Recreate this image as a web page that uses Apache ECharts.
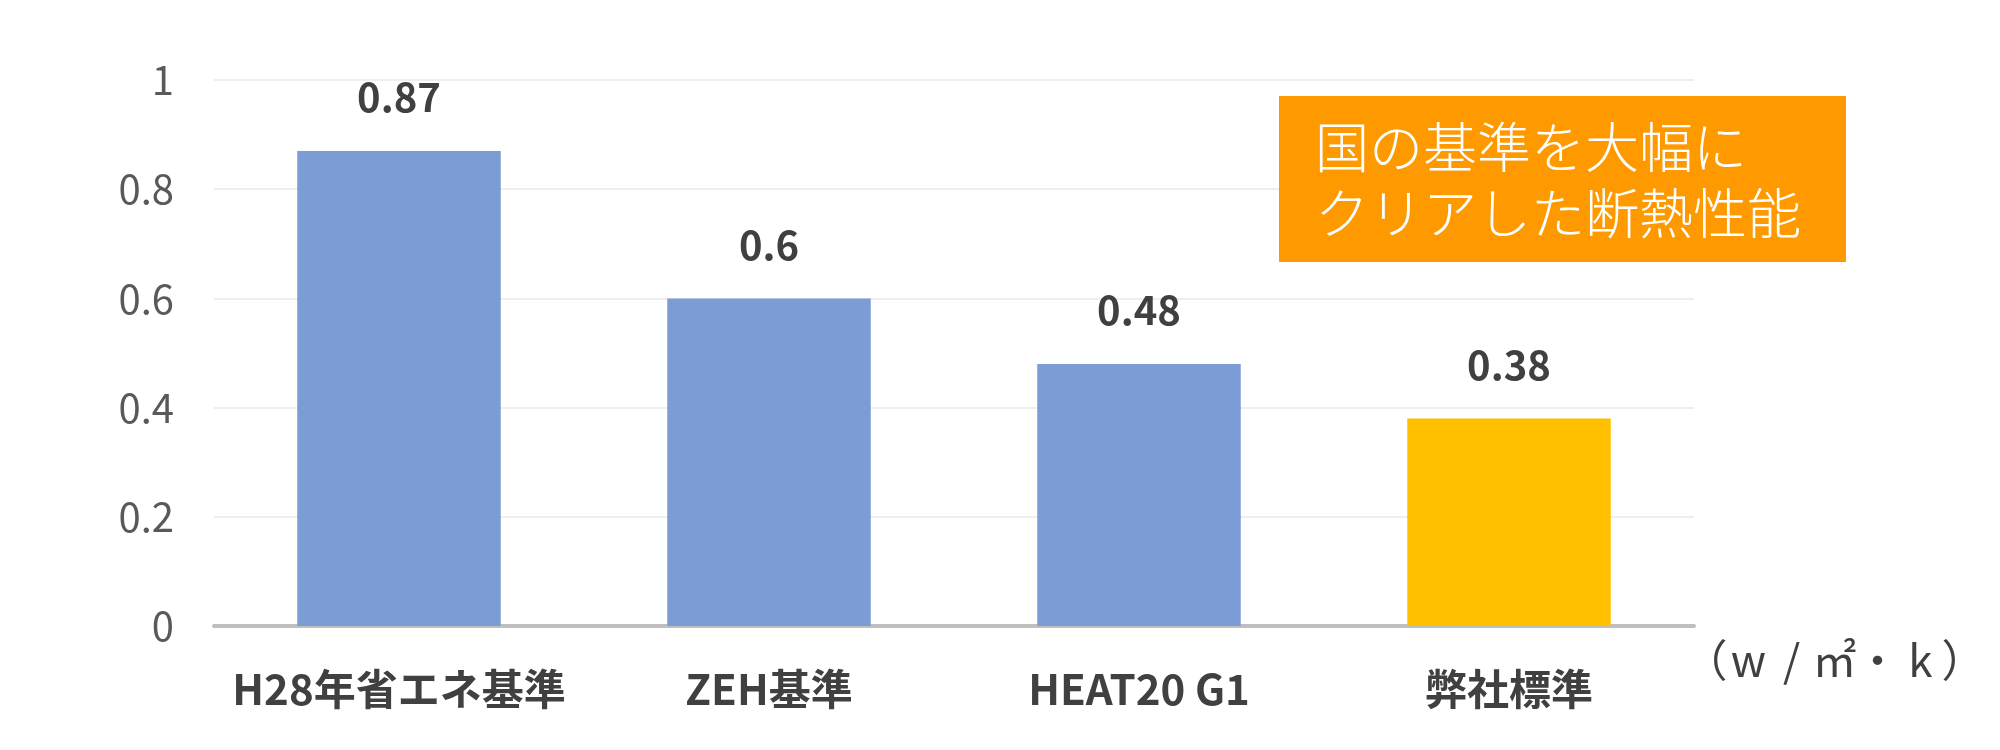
<!DOCTYPE html>
<html>
<head>
<meta charset="utf-8">
<script src="https://cdn.jsdelivr.net/npm/echarts@6/dist/echarts.min.js"></script>
<style>
html,body{margin:0;padding:0;background:#fff;}
#chart{width:2000px;height:750px;}
</style>
</head>
<body>
<div id="chart"></div>
<script>
var categories = ['H28年省エネ基準', 'ZEH基準', 'HEAT20 G1', '弊社標準'];
var values = [0.87, 0.6, 0.48, 0.38];
var unitLabel = '（w/㎡・k）';
var calloutLines = ['国の基準を大幅に', 'クリアした断熱性能'];

var barColors = ['#7B9CD5', '#7B9CD5', '#7B9CD5', '#FFC000'];
var FONT = '"Noto Sans CJK JP", "Noto Sans", sans-serif';

// unit label drawn as evenly spaced characters (like the reference)
var unitChars = Array.from(unitLabel);
var unitFormatted = unitChars.map(function (c) { return '{c|' + c + '}'; }).join('');

var chart = echarts.init(document.getElementById('chart'), null, {renderer: 'canvas'});
chart.setOption({
  backgroundColor: '#ffffff',
  animation: false,
  grid: {left: 214, right: 306, top: 80, bottom: 124, containLabel: false},
  xAxis: {
    type: 'category',
    data: categories,
    axisLine: {show: true, lineStyle: {color: '#BFBFBF', width: 4}},
    axisTick: {show: false},
    axisLabel: {
      interval: 0,
      color: '#404040', fontFamily: FONT, fontSize: 42, fontWeight: 'bold', margin: 42
    },
    name: unitFormatted,
    nameLocation: 'end',
    nameGap: -10,
    nameTextStyle: {
      color: '#404040', fontFamily: FONT, fontSize: 44, fontWeight: 'normal',
      align: 'left', verticalAlign: 'top', padding: [12, 0, 0, 0],
      rich: {
        c: {color: '#404040', fontFamily: FONT, fontSize: 44, fontWeight: 'normal', width: 43, align: 'center'}
      }
    }
  },
  yAxis: {
    type: 'value',
    min: 0, max: 1, interval: 0.2,
    axisLine: {show: false},
    axisTick: {show: false},
    splitLine: {show: true, lineStyle: {color: '#EEEEEE', width: 2}},
    axisLabel: {color: '#595959', fontFamily: FONT, fontSize: 40, margin: 40}
  },
  series: [{
    type: 'bar',
    barWidth: '55%',
    data: values.map(function (v, i) {
      return {value: v, itemStyle: {color: barColors[i]}};
    }),
    label: {
      show: true, position: 'top', distance: 34,
      color: '#404040', fontFamily: FONT, fontSize: 40, fontWeight: 'bold'
    }
  }],
  graphic: [{
    type: 'group',
    left: 1279, top: 96,
    z: 100,
    children: [{
      type: 'rect',
      z: 100,
      shape: {x: 0, y: 0, width: 567, height: 166},
      style: {fill: '#FF9900'}
    }, {
      type: 'text',
      z: 101,
      x: 36, y: 18,
      style: {
        text: calloutLines.join('\n'),
        fill: '#ffffff', font: '300 54px ' + FONT, lineHeight: 66
      }
    }]
  }]
});
</script>
</body>
</html>
